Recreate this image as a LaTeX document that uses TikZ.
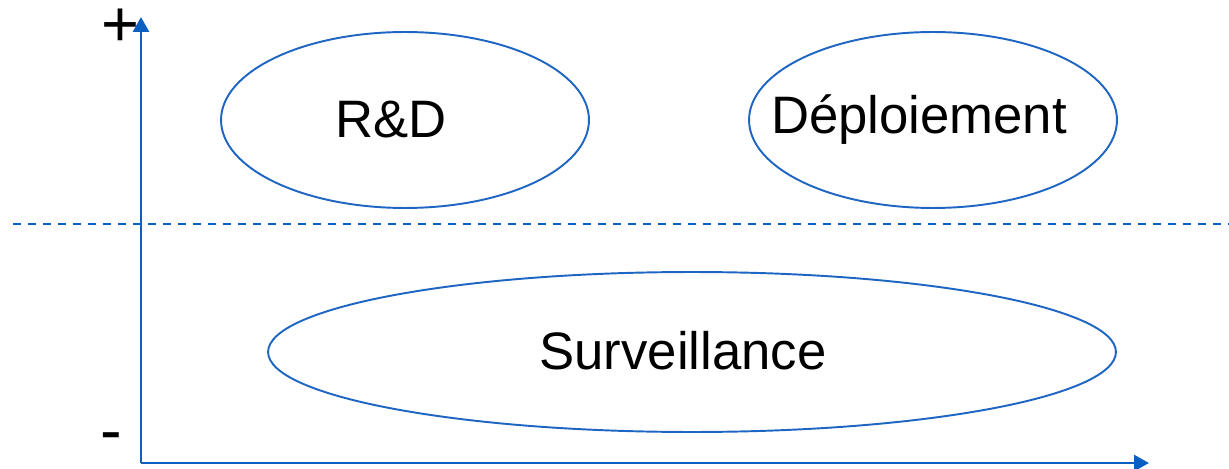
\documentclass[tikz,border=0pt]{standalone}
\usepackage{fontspec}
\setmainfont{Liberation Sans}
\usepackage{xcolor}
\usetikzlibrary{arrows.meta,shapes.geometric}
\definecolor{axisblue}{HTML}{0A5FC0}
\definecolor{ringblue}{HTML}{1F66C2}

\begin{document}
\begin{tikzpicture}[
x=0.02cm,
y=-0.02cm,
every node/.style={font=\fontsize{30}{36}\selectfont},
zone/.style={ellipse,draw=ringblue,line width=1.1pt,inner sep=0pt},
tag/.style={inner sep=0pt},
axis/.style={draw=axisblue,line width=1.6pt,-{Triangle[length=0.3cm,width=0.32cm]}},
split/.style={draw=axisblue,line width=1.1pt,dash pattern=on 0.16cm off 0.14cm},
sign/.style={inner sep=0pt,font=\fontsize{37}{37}\selectfont}
]
\useasboundingbox (0,0) rectangle (1229,469);
\node[zone,minimum width=7.36cm,minimum height=3.52cm] (rnd) at (405,120) {};
\node[zone,minimum width=7.36cm,minimum height=3.52cm] (deploy) at (933,120) {};
\node[zone,minimum width=16.96cm,minimum height=3.2cm] (watch) at (692,352) {};
\node[tag] (rndtxt) at (391,120) {R\&D};
\node[tag] (deploytxt) at (919,120) {Déploiement};
\node[tag] (watchtxt) at (683,351) {Surveillance};

\coordinate (origin) at (141,463);
\coordinate (ytop) at (141,17);
\coordinate (xend) at (1149,463);
\coordinate (dashl) at (13,224);
\coordinate (dashr) at (1229,224);

\draw[split] (dashl) -- (dashr);
\draw[axis] (origin) -- (ytop);
\draw[axis] (origin) -- (xend);

\node[sign] (plus) at (120,28) {+};
\node[sign] (minus) at (111,443) {-};
\end{tikzpicture}
\end{document}
